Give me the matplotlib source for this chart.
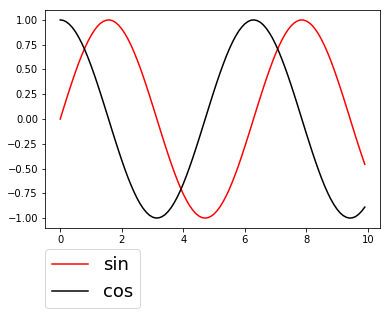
import numpy as np
import matplotlib
matplotlib.use("Agg")
import matplotlib.pyplot as plt

x = [round(0.1 * i, 1) for i in range(100)]

sin_vals = [0.000, 0.100, 0.199, 0.296, 0.389, 0.479, 0.565, 0.644, 0.717, 0.783,
            0.841, 0.891, 0.932, 0.964, 0.985, 0.997, 1.000, 0.992, 0.974, 0.946,
            0.909, 0.863, 0.808, 0.746, 0.675, 0.598, 0.516, 0.427, 0.335, 0.239,
            0.141, 0.042, -0.058, -0.158, -0.256, -0.351, -0.443, -0.530, -0.612, -0.688,
            -0.757, -0.818, -0.872, -0.916, -0.952, -0.978, -0.994, -1.000, -0.996, -0.982,
            -0.959, -0.926, -0.883, -0.832, -0.773, -0.706, -0.631, -0.551, -0.465, -0.374,
            -0.279, -0.182, -0.083, 0.017, 0.117, 0.215, 0.312, 0.405, 0.494, 0.578,
            0.657, 0.729, 0.794, 0.850, 0.899, 0.938, 0.968, 0.988, 0.999, 0.999,
            0.989, 0.970, 0.941, 0.902, 0.855, 0.798, 0.734, 0.663, 0.585, 0.501,
            0.412, 0.319, 0.223, 0.125, 0.025, -0.075, -0.175, -0.272, -0.366, -0.457]

cos_vals = [1.000, 0.995, 0.980, 0.955, 0.921, 0.878, 0.825, 0.765, 0.697, 0.622,
            0.540, 0.454, 0.362, 0.267, 0.170, 0.071, -0.029, -0.129, -0.227, -0.323,
            -0.416, -0.505, -0.589, -0.666, -0.737, -0.801, -0.857, -0.904, -0.942, -0.971,
            -0.990, -0.999, -0.998, -0.987, -0.967, -0.936, -0.897, -0.848, -0.791, -0.726,
            -0.654, -0.575, -0.490, -0.401, -0.307, -0.211, -0.112, -0.012, 0.087, 0.187,
            0.284, 0.378, 0.469, 0.554, 0.635, 0.709, 0.776, 0.835, 0.886, 0.927,
            0.960, 0.983, 0.997, 1.000, 0.993, 0.977, 0.950, 0.914, 0.869, 0.816,
            0.754, 0.685, 0.608, 0.526, 0.439, 0.347, 0.252, 0.154, 0.054, -0.046,
            -0.146, -0.243, -0.339, -0.431, -0.519, -0.602, -0.679, -0.749, -0.811, -0.865,
            -0.911, -0.948, -0.975, -0.992, -1.000, -0.997, -0.985, -0.962, -0.930, -0.889]

W, H = 390, 316
fig = plt.figure(figsize=(W / 72, H / 72), dpi=72)
ax = fig.add_axes([45 / W, (H - 228) / H, 335 / W, 218 / H])
ax.plot(x, sin_vals, color="red", label="sin")
ax.plot(x, cos_vals, color="black", label="cos")
ax.legend(loc="upper left", bbox_to_anchor=(0, -0.096), borderaxespad=0,
          fontsize=18)
fig.savefig("out.png", dpi=72)
